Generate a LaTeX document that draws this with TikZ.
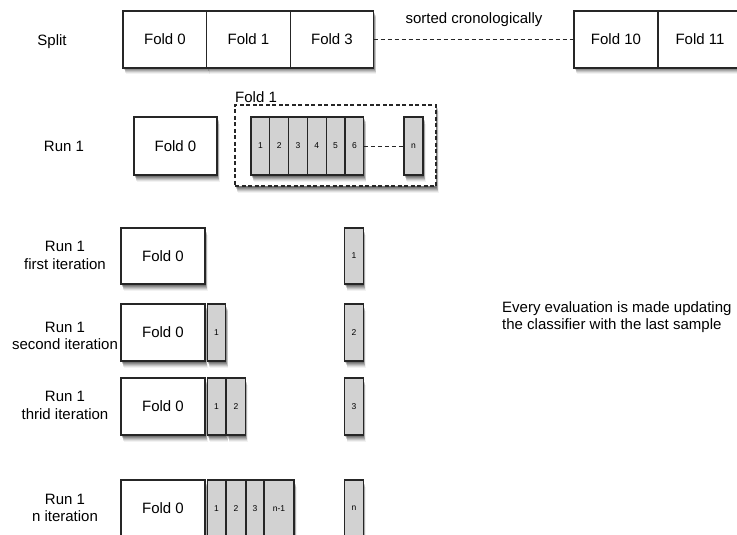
\documentclass[tikz,border=0pt]{standalone}
\usepackage{fontspec}
\setmainfont{Liberation Sans}
\usetikzlibrary{shadows}

\tikzset{
  base/.style={draw=black!85, line width=1.2pt, inner sep=0pt, outer sep=0pt,
    font=\fontsize{15}{17}\selectfont},
  % soft drop shadow built from stacked translucent copies
  softshadow/.style={
    general shadow={fill=black, opacity=0.18, shadow xshift=0.5pt, shadow yshift=-1.5pt},
    general shadow={fill=black, opacity=0.16, shadow xshift=1pt, shadow yshift=-2.5pt},
    general shadow={fill=black, opacity=0.14, shadow xshift=1.5pt, shadow yshift=-3.5pt},
    general shadow={fill=black, opacity=0.11, shadow xshift=2pt, shadow yshift=-4.5pt},
    general shadow={fill=black, opacity=0.08, shadow xshift=2pt, shadow yshift=-5.5pt},
    general shadow={fill=black, opacity=0.05, shadow xshift=2.5pt, shadow yshift=-6.5pt}},
  foldbox/.style={base, fill=white, softshadow, minimum width=84pt, minimum height=57pt},
  cell/.style={base, fill=gray!35, softshadow, minimum width=18.5pt, minimum height=57pt,
    font=\fontsize{8.5}{9}\selectfont},
  rowlabel/.style={align=center, font=\fontsize{15}{17.5}\selectfont, inner sep=0pt},
  note/.style={align=left, font=\fontsize{15}{17}\selectfont, inner sep=0pt},
  gap/.style={draw=black!85, line width=1pt, dash pattern=on 4pt off 3pt},
}

\begin{document}
\begin{tikzpicture}[x=1pt, y=1pt]
  \useasboundingbox (0,0) rectangle (737,-535);

  % ---- the chronological split into folds ----
  \node[rowlabel] (lsplit) at (52,-42) {Split};
  \node[foldbox] (s0) at (165,-39.5) {Fold 0};
  \node[foldbox] (s1) at (248.5,-39.5) {Fold 1};
  \node[foldbox, minimum width=83pt] (s3) at (332,-39.5) {Fold 3};
  \node[foldbox] (s10) at (616,-39.5) {Fold 10};
  \node[foldbox] (s11) at (700,-39.5) {Fold 11};
  \draw[gap] (s3.east) -- (s10.west);
  \node[note, anchor=center] (sorted) at (474,-20) {sorted cronologically};

  % ---- run 1: training fold and the samples of the next fold ----
  \node[rowlabel] (lrun) at (64,-146) {Run 1};
  \node[foldbox, minimum width=83pt, minimum height=58pt] (r0) at (175.5,-146) {Fold 0};
  \node[base, dash pattern=on 4pt off 2.5pt, fill=white, softshadow,
        minimum width=201pt, minimum height=81pt] (r1) at (335.5,-145.5) {};
  \node[note, anchor=south west] (r1lab) at (235,-103) {Fold 1};
  \foreach \i [count=\k from 0] in {1,...,6}
    \node[cell, minimum width=18.8pt, minimum height=58pt] (c\i) at (260.4+18.8*\k,-146) {\i};
  \node[cell, minimum width=19pt, minimum height=58pt] (cn) at (413.5,-146) {n};
  \draw[gap] (c6.east) -- (cn.west);

  % ---- first iteration ----
  \node[rowlabel] (la) at (65,-255.5) {Run 1\\first iteration};
  \node[foldbox, minimum height=56pt] (a0) at (163,-256) {Fold 0};
  \node[cell, minimum height=56pt] (at) at (354,-256) {1};

  % ---- second iteration ----
  \node[rowlabel] (lb) at (65,-336) {Run 1\\second iteration};
  \node[foldbox] (b0) at (163,-332.5) {Fold 0};
  \node[cell] (b1) at (216.5,-332.5) {1};
  \node[cell] (bt) at (354,-332.5) {2};

  % ---- third iteration ----
  \node[rowlabel] (lc) at (65,-405.5) {Run 1\\thrid iteration};
  \node[foldbox] (c0) at (163,-406.5) {Fold 0};
  \node[cell] (cc1) at (216.5,-406.5) {1};
  \node[cell] (cc2) at (236,-406.5) {2};
  \node[cell] (ct) at (354,-406.5) {3};

  % ---- n-th iteration ----
  \node[rowlabel] (ld) at (65,-508) {Run 1\\n iteration};
  \node[foldbox] (d0) at (163,-508.5) {Fold 0};
  \node[cell] (d1) at (216.5,-508.5) {1};
  \node[cell] (d2) at (236,-508.5) {2};
  \node[cell, minimum width=17.5pt] (d3) at (255,-508.5) {3};
  \node[cell, minimum width=30pt] (d4) at (279,-508.5) {n-1};
  \node[cell] (dt) at (354,-508.5) {n};

  % ---- remark ----
  \node[note, anchor=west] (remark) at (502,-317.5)
    {Every evaluation is made updating\\the classifier with the last sample};
\end{tikzpicture}
\end{document}
